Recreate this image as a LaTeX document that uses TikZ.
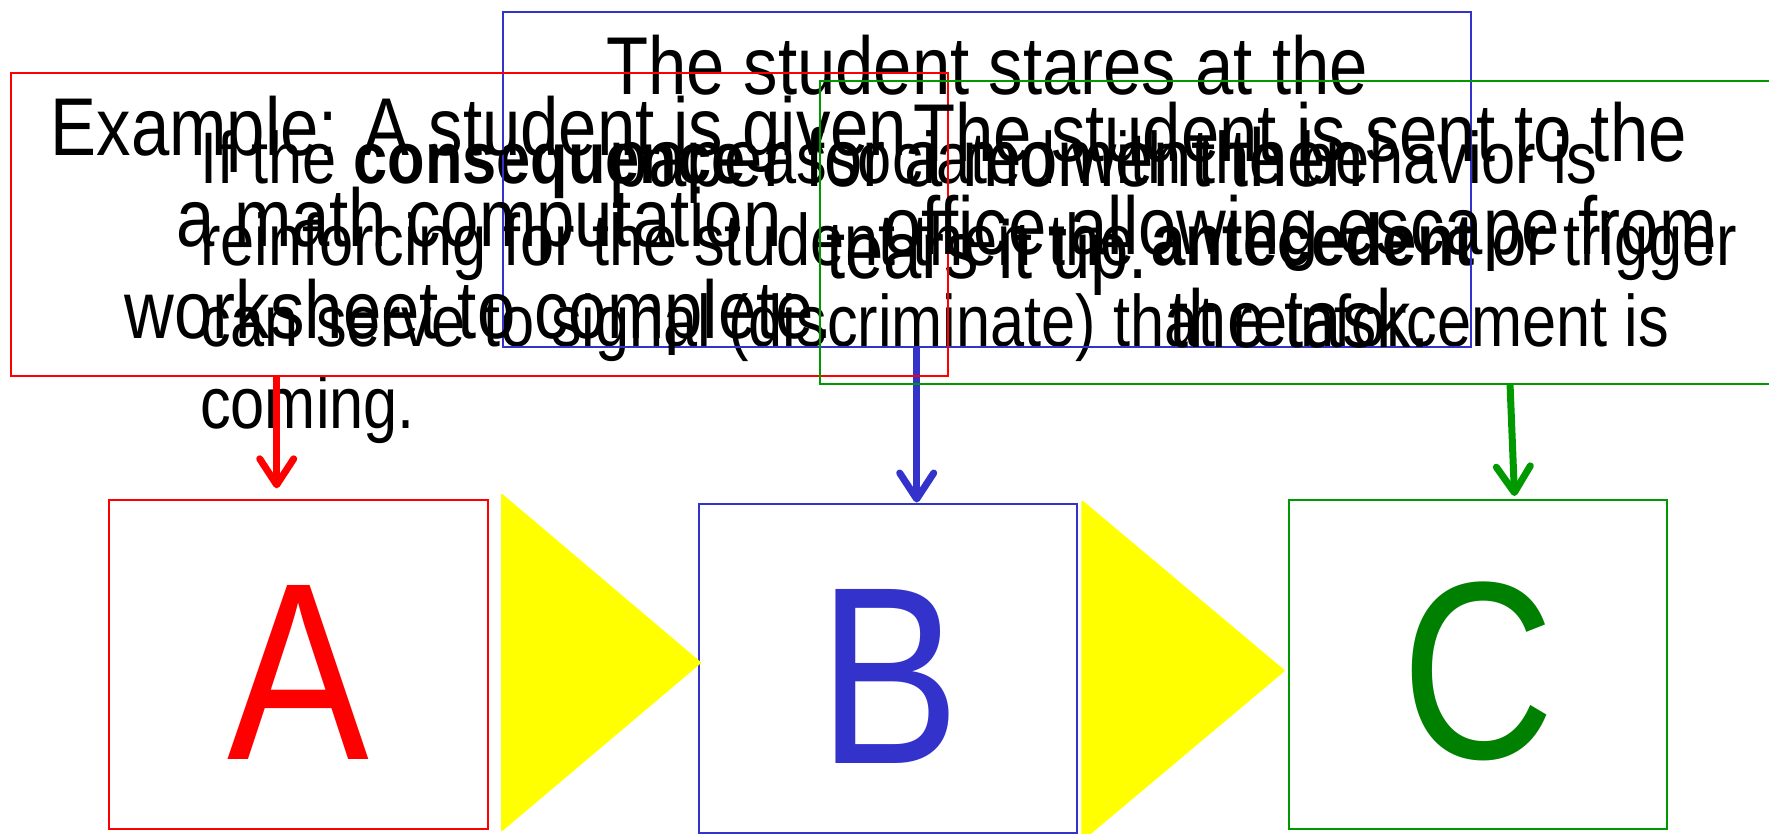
\documentclass[tikz,border=0pt]{standalone}
\usepackage{fontspec}
\setmainfont{Liberation Sans}[FakeStretch=0.84]
\usetikzlibrary{arrows.meta}

\definecolor{abcred}{RGB}{255,0,0}
\definecolor{abcblue}{RGB}{51,51,204}
\definecolor{abcgreen}{RGB}{0,153,0}
\definecolor{abcdarkgreen}{RGB}{0,128,0}
\definecolor{abcyellow}{RGB}{255,255,0}

\begin{document}
\begin{tikzpicture}[x=1pt,y=-1pt,
  outline/.style={draw=#1, line width=2pt, inner sep=0pt, outer sep=0pt},
  bigtext/.style={font=\fontsize{82}{92}\selectfont, inner sep=0pt, anchor=base},
  notetext/.style={font=\fontsize{73}{82}\selectfont, inner sep=0pt, anchor=base west},
  bigletter/.style={font=\fontsize{253}{260}\selectfont, inner sep=0pt, anchor=base, text=#1},
  callarrow/.style={draw=#1, line width=7pt,
    -{Straight Barb[length=26pt,width=34pt,round]}},
  yellowwedge/.style={fill=abcyellow, draw=abcyellow, line width=2pt, line join=round}
]
\useasboundingbox (0,0) rectangle (1769,834);
\clip (0,0) rectangle (1769,834);

% A -> B -> C boxes with their letters
\node[outline=abcred,  minimum width=378.8pt, minimum height=329.3pt] (boxA) at (298.2,664.7) {};
\node[outline=abcblue, minimum width=378pt,   minimum height=329pt]   (boxB) at (888,668.5) {};
\node[outline=abcgreen,minimum width=378.4pt, minimum height=329pt]   (boxC) at (1477.8,664.5) {};

\filldraw[yellowwedge] (502,495) -- (700,662.7) -- (502,830) -- cycle;
\filldraw[yellowwedge] (1082.4,501.7) -- (1283.7,670.7) -- (1082.4,839.7) -- cycle;

\node[bigletter=abcred]       (letA) at (298.4,759.3) {A};
\node[bigletter=abcblue]      (letB) at (889,763.3) {B};
\node[bigletter=abcdarkgreen] (letC) at (1477.8,758.7) {C};

% explanatory note
\node[notetext] (note1) at (200,183.3) {If the \textbf{consequence} associated with the behavior is};
\node[notetext] (note2) at (200,265.7) {reinforcing for the student then the \textbf{antecedent} or trigger};
\node[notetext] (note3) at (200,346.7) {can serve to signal (discriminate) that reinforcement is};
\node[notetext] (note4) at (200,428.3) {coming.};

% behaviour (B)
\node[outline=abcblue, minimum width=967.7pt, minimum height=334.2pt] (bluebox) at (986.75,179.6) {};
\node[bigtext] (blue1) at (987,94.3)  {The student stares at the};
\node[bigtext] (blue2) at (987,186.3) {paper for a moment then};
\node[bigtext] (blue3) at (987,278.3) {tears it up.};
\coordinate (bluetip) at (916.7,502.5);
\draw[callarrow=abcblue] (bluebox.south -| bluetip) -- (bluetip);

% antecedent (A)
\node[outline=abcred, minimum width=936.8pt, minimum height=302.2pt] (redbox) at (479.1,224.4) {};
\node[bigtext] (red1) at (479.1,155.7) {Example: A student is given};
\node[bigtext] (red2) at (479.1,246.7) {a math computation};
\node[bigtext] (red3) at (479.1,338.5) {worksheet to complete.};
\coordinate (redtip) at (276.7,488.3);
\draw[callarrow=abcred] (redbox.south -| redtip) -- (redtip);

% consequence (C)
\node[outline=abcgreen, minimum width=960pt, minimum height=302.8pt] (greenbox) at (1300,232.1) {};
\node[bigtext] (green1) at (1300,162)   {The student is sent to the};
\node[bigtext] (green2) at (1300,254.5) {office-allowing escape from};
\node[bigtext] (green3) at (1300,347)   {the task.};
\coordinate (greentip) at (1514.5,496);
\draw[callarrow=abcgreen] ([xshift=210pt]greenbox.south) -- (greentip);
\end{tikzpicture}
\end{document}
